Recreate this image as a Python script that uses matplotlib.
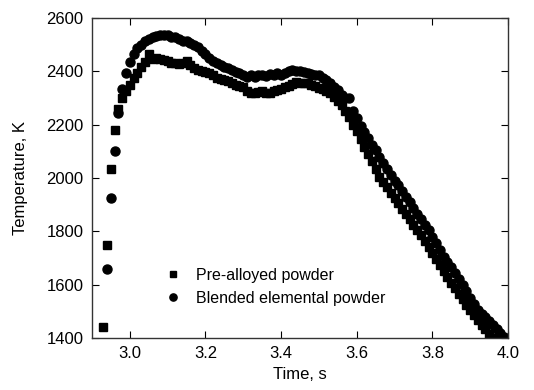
import numpy as np
import matplotlib
matplotlib.use('Agg')
import matplotlib.pyplot as plt

plt.rcParams['font.family'] = ['Liberation Sans', 'DejaVu Sans']

# Pre-alloyed powder (squares)
t_pre = [2.93, 2.94, 2.95, 2.96, 2.97, 2.98, 2.99, 3.00, 3.01, 3.02,
         3.03, 3.04, 3.05, 3.06, 3.07, 3.08, 3.09, 3.10, 3.11, 3.12,
         3.13, 3.14, 3.15, 3.16, 3.17, 3.18, 3.19, 3.20, 3.21, 3.22,
         3.23, 3.24, 3.25, 3.26, 3.27, 3.28, 3.29, 3.30, 3.31, 3.32,
         3.33, 3.34, 3.35, 3.36, 3.37, 3.38, 3.39, 3.40, 3.41, 3.42,
         3.43, 3.44, 3.45, 3.46, 3.47, 3.48, 3.49, 3.50, 3.51, 3.52,
         3.53, 3.54, 3.55, 3.56, 3.57, 3.58, 3.59, 3.60, 3.61, 3.62,
         3.63, 3.64, 3.65, 3.66, 3.67, 3.68, 3.69, 3.70, 3.71, 3.72,
         3.73, 3.74, 3.75, 3.76, 3.77, 3.78, 3.79, 3.80, 3.81, 3.82,
         3.83, 3.84, 3.85, 3.86, 3.87, 3.88, 3.89, 3.90, 3.91, 3.92,
         3.93, 3.94, 3.95, 3.96]
T_pre = [1440, 1750, 2035, 2180, 2260, 2300, 2325, 2350, 2375, 2395,
         2415, 2435, 2465, 2445, 2450, 2445, 2442, 2440, 2432, 2430,
         2428, 2432, 2438, 2422, 2412, 2405, 2400, 2397, 2395, 2385,
         2375, 2370, 2368, 2362, 2355, 2350, 2345, 2340, 2325, 2320,
         2318, 2322, 2325, 2320, 2318, 2325, 2330, 2335, 2340, 2345,
         2352, 2360, 2358, 2355, 2355, 2350, 2345, 2338, 2332, 2325,
         2318, 2305, 2290, 2275, 2250, 2230, 2200, 2175, 2145, 2115,
         2090, 2065, 2035, 2005, 1985, 1965, 1945, 1925, 1905, 1885,
         1865, 1845, 1825, 1805, 1785, 1765, 1742, 1720, 1698, 1675,
         1652, 1630, 1608, 1587, 1565, 1545, 1525, 1505, 1487, 1467,
         1450, 1432, 1415, 1400]

# Blended elemental powder (circles)
t_bl = [2.94, 2.95, 2.96, 2.97, 2.98, 2.99, 3.00, 3.01, 3.02,
        3.03, 3.04, 3.05, 3.06, 3.07, 3.08, 3.09, 3.10, 3.11, 3.12,
        3.13, 3.14, 3.15, 3.16, 3.17, 3.18, 3.19, 3.20, 3.21, 3.22,
        3.23, 3.24, 3.25, 3.26, 3.27, 3.28, 3.29, 3.30, 3.31, 3.32,
        3.33, 3.34, 3.35, 3.36, 3.37, 3.38, 3.39, 3.40, 3.41, 3.42,
        3.43, 3.44, 3.45, 3.46, 3.47, 3.48, 3.49, 3.50, 3.51, 3.52,
        3.53, 3.54, 3.55, 3.56, 3.57, 3.58, 3.59, 3.60, 3.61, 3.62,
        3.63, 3.64, 3.65, 3.66, 3.67, 3.68, 3.69, 3.70, 3.71, 3.72,
        3.73, 3.74, 3.75, 3.76, 3.77, 3.78, 3.79, 3.80, 3.81, 3.82,
        3.83, 3.84, 3.85, 3.86, 3.87, 3.88, 3.89, 3.90, 3.91, 3.92,
        3.93, 3.94, 3.95, 3.96, 3.97, 3.98, 3.99]
T_bl = [1660, 1925, 2100, 2245, 2335, 2395, 2435, 2465, 2488,
        2500, 2512, 2522, 2527, 2532, 2535, 2536, 2535, 2530, 2527,
        2522, 2515, 2512, 2508, 2498, 2490, 2478, 2465, 2450, 2440,
        2430, 2422, 2418, 2412, 2405, 2398, 2392, 2388, 2380, 2385,
        2378, 2386, 2388, 2382, 2390, 2385, 2393, 2388, 2392, 2400,
        2405, 2402, 2400, 2398, 2395, 2390, 2385, 2385, 2375, 2367,
        2355, 2340, 2330, 2310, 2300, 2300, 2250, 2225, 2195, 2172,
        2150, 2125, 2105, 2080, 2055, 2035, 2010, 1990, 1975, 1950,
        1930, 1910, 1888, 1865, 1845, 1825, 1805, 1780, 1755, 1730,
        1705, 1685, 1665, 1642, 1620, 1597, 1575, 1550, 1528, 1505,
        1490, 1478, 1465, 1450, 1435, 1420, 1405]

xticks = [3.0, 3.2, 3.4, 3.6, 3.8, 4.0]
yticks = [1400, 1600, 1800, 2000, 2200, 2400, 2600]

fig = plt.figure(figsize=(5.34, 3.90), dpi=100)
ax = fig.add_axes([92 / 534, 52 / 390, 416 / 534, 320 / 390])

ax.plot(t_pre, T_pre, 's', color='black', markersize=6, label='Pre-alloyed powder')
ax.plot(t_bl, T_bl, 'o', color='black', markersize=6.5, label='Blended elemental powder')

ax.set_xlim(2.9, 4.0)
ax.set_ylim(1400, 2600)
ax.set_xticks(xticks)
ax.set_xticklabels([f'{v:.1f}' for v in xticks])
ax.set_yticks(yticks)
ax.tick_params(direction='in', length=5, top=True, right=True, labelsize=12, pad=6)
for s in ax.spines.values():
    s.set_color('#333333')
    s.set_linewidth(1.0)

ax.set_xlabel('Time, s', fontsize=12, labelpad=4)
ax.set_ylabel('Temperature, K', fontsize=12, labelpad=13)

ax.legend(loc='upper left', bbox_to_anchor=(0.176, 0.219), frameon=False, fontsize=11.5,
          handlelength=1.0, handletextpad=0.95, labelspacing=0.5, numpoints=1,
          markerscale=0.8, borderpad=0, borderaxespad=0)

fig.savefig('out.png', dpi=100)
